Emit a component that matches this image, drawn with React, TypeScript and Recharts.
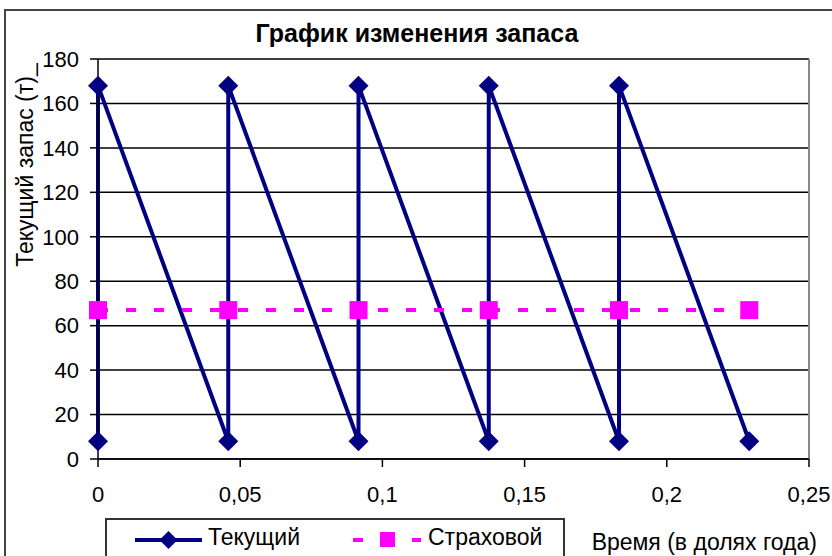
import React from 'react';
import { CartesianGrid, Legend, Line, LineChart, ReferenceLine, XAxis, YAxis } from 'recharts';

// текущий запас: пилообразный график (пополнение -> расход)
const currentTime = [0, 0, 0.0458, 0.0458, 0.0916, 0.0916, 0.1374, 0.1374, 0.1832, 0.1832, 0.229];
const currentStock = [8, 168, 8, 168, 8, 168, 8, 168, 8, 168, 8];

// страховой запас
const safetyTime = [0, 0.0458, 0.0916, 0.1374, 0.1832, 0.229];
const safetyStock = [67, 67, 67, 67, 67, 67];

const xTicks = [0, 0.05, 0.1, 0.15, 0.2, 0.25];
const yTicks = [0, 20, 40, 60, 80, 100, 120, 140, 160, 180];
const seriesNames = ['Текущий', 'Страховой'];

const chartTitle = 'График изменения запаса';
const yTitle = 'Текущий запас (т)_';
const xTitle = 'Время (в долях года)';

const FONT = '"Liberation Sans", Arial, sans-serif';
const NAVY = '#000080';
const MAGENTA = '#FF00FF';

const currentData = currentTime.map((t, i) => ({ t, v: currentStock[i] }));
const safetyData = safetyTime.map((t, i) => ({ t, v: safetyStock[i] }));

const formatTick = (v: number) => String(v).replace('.', ',');

const Diamond = (props: any) => {
    const { cx, cy, index } = props;
    if (cx == null || cy == null) return null;
    const r = 10;
    return (
        <path
            key={`d-${index}`}
            d={`M${cx},${cy - r}L${cx + r},${cy}L${cx},${cy + r}L${cx - r},${cy}Z`}
            fill={NAVY}
        />
    );
};

const Square = (props: any) => {
    const { cx, cy, index } = props;
    if (cx == null || cy == null) return null;
    const s = 9;
    return <rect key={`s-${index}`} x={cx - s} y={cy - s} width={s * 2} height={s * 2} fill={MAGENTA} />;
};

const LegendBox = () => (
    <div
        style={{
            position: 'relative',
            width: 460,
            height: 60,
            border: '2px solid #333',
            boxSizing: 'border-box',
            background: '#fff',
            fontFamily: FONT,
            fontSize: 23,
            color: '#000',
        }}
    >
        <svg style={{ position: 'absolute', left: 28, top: 8 }} width={70} height={24}>
            <line x1={0} y1={12} x2={67} y2={12} stroke={NAVY} strokeWidth={4} />
            <path d="M33.5,3L42.5,12L33.5,21L24.5,12Z" fill={NAVY} />
        </svg>
        <span style={{ position: 'absolute', left: 101, top: 6, lineHeight: '23px', whiteSpace: 'nowrap' }}>
            {seriesNames[0]}
        </span>
        <svg style={{ position: 'absolute', left: 246, top: 8 }} width={72} height={24}>
            <line x1={0} y1={12} x2={68} y2={12} stroke={MAGENTA} strokeWidth={4} strokeDasharray="10 49" />
            <rect x={27} y={4} width={15} height={15} fill={MAGENTA} />
        </svg>
        <span style={{ position: 'absolute', left: 321, top: 6, lineHeight: '23px', whiteSpace: 'nowrap' }}>
            {seriesNames[1]}
        </span>
    </div>
);

export default function App() {
    return (
        <div style={{ position: 'absolute', left: 0, top: 0, width: 832, height: 556, overflow: 'hidden', background: '#fff' }}>
            <div
                style={{
                    position: 'absolute',
                    left: 4,
                    top: 9,
                    width: 900,
                    height: 600,
                    border: '2px solid #444',
                }}
            />
            <div
                style={{
                    position: 'absolute',
                    left: 0,
                    top: 21,
                    width: 834,
                    textAlign: 'center',
                    fontFamily: FONT,
                    fontWeight: 'bold',
                    fontSize: 25,
                    lineHeight: '25px',
                    color: '#000',
                }}
            >
                {chartTitle}
            </div>
            <LineChart width={832} height={556} margin={{ top: 59, right: 23, bottom: 0, left: 0 }}>
                <CartesianGrid vertical={false} stroke="#000" strokeWidth={1.5} />
                <ReferenceLine x={0.25} stroke="#888" strokeWidth={2} />
                <XAxis
                    type="number"
                    dataKey="t"
                    domain={[0, 0.25]}
                    ticks={xTicks}
                    tickFormatter={formatTick}
                    height={97}
                    tickSize={8}
                    tickMargin={19}
                    axisLine={{ stroke: '#000', strokeWidth: 1.5 }}
                    tickLine={{ stroke: '#000', strokeWidth: 1.5 }}
                    tick={{ fill: '#000', fontSize: 22, fontFamily: FONT }}
                    allowDuplicatedCategory
                    label={{
                        content: (p: any) => {
                            const vb = p.viewBox;
                            return (
                                <text
                                    x={vb.x + vb.width + 8}
                                    y={vb.y + vb.height - 6}
                                    textAnchor="end"
                                    fill="#000"
                                    fontSize={23}
                                    fontFamily={FONT}
                                >
                                    {xTitle}
                                </text>
                            );
                        },
                    }}
                />
                <YAxis
                    type="number"
                    dataKey="v"
                    domain={[0, 180]}
                    ticks={yTicks}
                    width={98}
                    tickSize={8}
                    tickMargin={11}
                    axisLine={{ stroke: '#000', strokeWidth: 1.5 }}
                    tickLine={{ stroke: '#000', strokeWidth: 1.5 }}
                    tick={{ fill: '#000', fontSize: 22, fontFamily: FONT }}
                    label={{
                        content: () => (
                            <text
                                x={33}
                                y={165}
                                transform="rotate(-90, 33, 165)"
                                textAnchor="middle"
                                fill="#000"
                                fontSize={23}
                                fontFamily={FONT}
                            >
                                {yTitle}
                            </text>
                        ),
                    }}
                />
                <Line
                    data={currentData}
                    dataKey="v"
                    name={seriesNames[0]}
                    type="linear"
                    stroke={NAVY}
                    strokeWidth={4}
                    dot={Diamond}
                    activeDot={false}
                    isAnimationActive={false}
                />
                <Line
                    data={safetyData}
                    dataKey="v"
                    name={seriesNames[1]}
                    type="linear"
                    stroke={MAGENTA}
                    strokeWidth={4}
                    strokeDasharray="10 18"
                    dot={Square}
                    activeDot={false}
                    isAnimationActive={false}
                />
                <Legend
                    verticalAlign="middle"
                    align="center"
                    layout="horizontal"
                    wrapperStyle={{ left: 105, top: 518, width: 460, height: 60 }}
                    content={() => <LegendBox />}
                />
            </LineChart>
        </div>
    );
}
